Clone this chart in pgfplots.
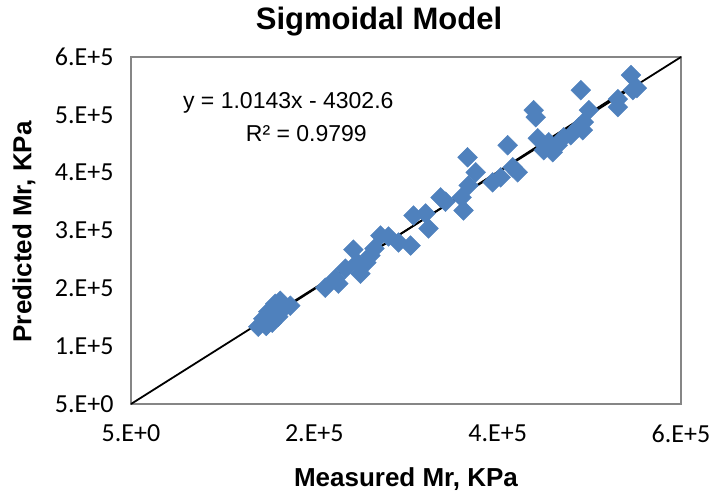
\documentclass[border=0pt]{standalone}
\usepackage{pgfplots}
\pgfplotsset{compat=1.18}
\usepackage{fontspec}
\setmainfont{Liberation Sans}
\newfontfamily\tickfont{Carlito}
\definecolor{ptblue}{HTML}{4F81BD}
\definecolor{axgray}{HTML}{868686}
\begin{document}
\begin{tikzpicture}
\path[use as bounding box] (-131pt,-94pt) rectangle (582pt,404pt);
\begin{axis}[
  scale only axis, width=550pt, height=347pt,
  xmin=5, xmax=600000, ymin=5, ymax=600000,
  axis line style={axgray, line width=1.3pt},
  major tick length=0pt,
  xtick={5,200000,400000,600000},
  xticklabels={5.E+0,2.E+5,4.E+5,6.E+5},
  ytick={5,100000,200000,300000,400000,500000,600000},
  yticklabels={5.E+0,1.E+5,2.E+5,3.E+5,4.E+5,5.E+5,6.E+5},
  ticklabel style={font=\tickfont\fontsize{26}{30}\selectfont},
  yticklabel style={xshift=-14pt},
  xticklabel style={yshift=-17pt},
  scaled ticks=false,
  xlabel={Measured Mr, KPa},
  ylabel={Predicted Mr, KPa},
  xlabel style={font=\bfseries\fontsize{26}{30}\selectfont, at={(axis description cs:0.5,-0.215)}, anchor=center},
  ylabel style={font=\bfseries\fontsize{26}{30}\selectfont, at={(axis description cs:-0.1945,0.496)}, anchor=center},
  clip=false,
]
\addplot[only marks, mark=square*, mark size=7pt, mark options={rotate=45, fill=ptblue, draw=ptblue}] coordinates {
(138800,133500) (144300,147400) (149700,159500) (157400,173400) (162800,178600)
(167200,166500) (173800,169900) (154100,140500) (160700,150900) (147500,135000)
(212000,201100) (223000,216800) (226200,208100) (233900,234100) (242600,267000)
(247000,244500) (250300,225400) (256800,244500) (261200,256600) (265600,268800)
(272100,291300) (280900,289600) (291800,279200) (305000,274000) (308200,326000)
(321300,329500) (324600,303500) (337700,357200) (343200,349800) (360700,357200)
(367200,426600) (368300,378000) (376000,400600) (362800,334700) (403300,391900)
(410900,447400) (416400,409200) (421900,400600) (394500,383200)
(439300,508100) (441500,495900) (443700,459500) (450300,438700) (460100,435200)
(465600,447400) (472100,461200) (479800,464700) (488500,478600) (494000,487300)
(490700,542700) (499500,508100) (492900,473400) (531100,527100) (531100,513300)
(545400,568800) (547500,542700) (551900,546200) (455700,452600)
};
\addplot[black, line width=1.8pt] coordinates {(5,5) (600000,600000)};
\addplot[black, line width=1.8pt] coordinates {(138800,136482) (551900,555490)};
\node[font=\fontsize{23}{26}\selectfont] at (axis cs:171600,520000) {y = 1.0143x - 4302.6};
\node[font=\fontsize{23}{26}\selectfont] at (axis cs:191300,468000) {R² = 0.9799};
\end{axis}
\node[font=\bfseries\fontsize{31}{35}\selectfont] at (248pt,382pt) {Sigmoidal Model};
\end{tikzpicture}
\end{document}
